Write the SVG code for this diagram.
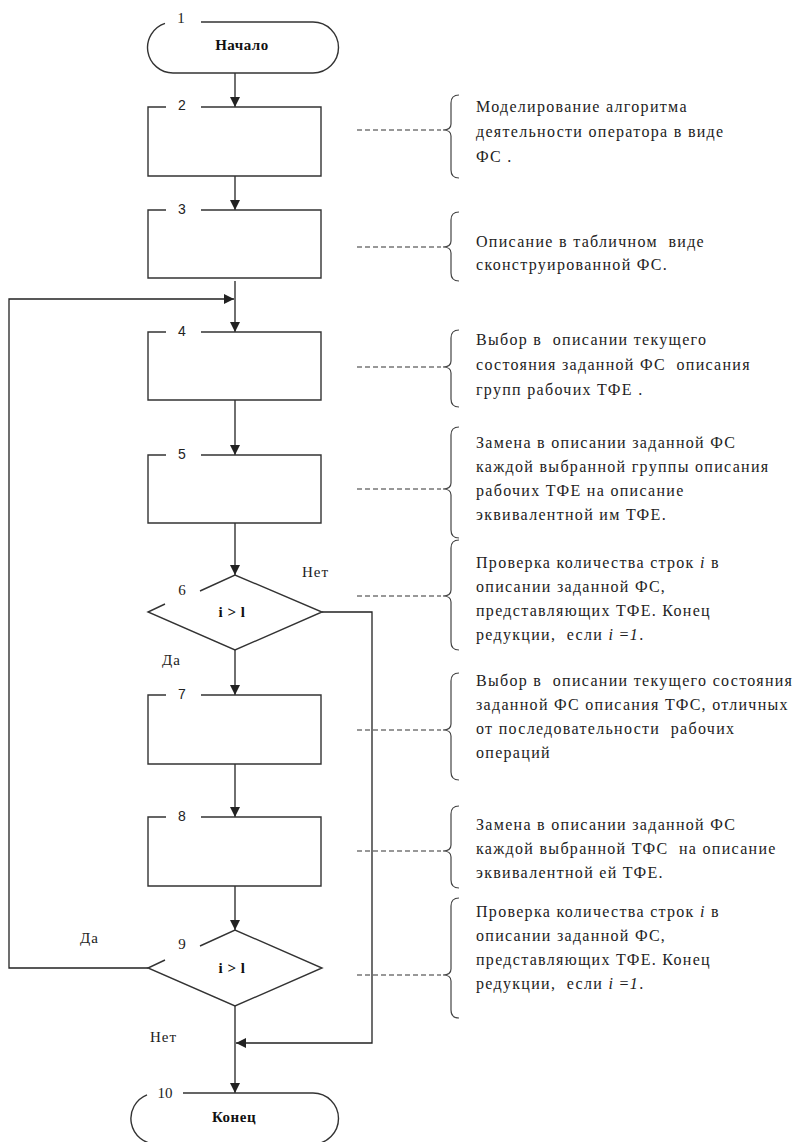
<svg xmlns="http://www.w3.org/2000/svg" width="804" height="1142" viewBox="0 0 804 1142">
<defs>
<marker id="ah" viewBox="0 0 10 10" refX="10" refY="5" markerWidth="10" markerHeight="10" markerUnits="userSpaceOnUse" orient="auto">
<path d="M0,0 L10,5 L0,10 Z" fill="#222"/>
</marker>
<style>
.sh{fill:none;stroke:#333;stroke-width:1.4}
.cn{fill:none;stroke:#222;stroke-width:1.3}
.ar{marker-end:url(#ah)}
.da{fill:none;stroke:#333;stroke-width:1.2;stroke-dasharray:5 3}
.br{fill:none;stroke:#444;stroke-width:1.2}
text{font-family:"Liberation Serif","Times New Roman","DejaVu Serif",serif}
.nt{font-size:16px;fill:#222;letter-spacing:1.3px;white-space:pre}
.lb{font-size:15px;font-weight:bold;fill:#111;text-anchor:middle;letter-spacing:0.5px}
.ns{font-family:"Liberation Sans",Arial,sans-serif;font-size:14px;fill:#222;text-anchor:middle}
.nr{font-size:15px;fill:#222;text-anchor:middle}
.yn{font-size:15px;fill:#222;letter-spacing:1px}
</style>
</defs>
<rect width="804" height="1142" fill="#fff"/>

<g id="connectors">
<line class="cn ar" x1="235" y1="73" x2="235" y2="107"/>
<line class="cn ar" x1="235" y1="176" x2="235" y2="210"/>
<line class="cn ar" x1="235" y1="281" x2="235" y2="332"/>
<polyline class="cn ar" points="148,968 9,968 9,299 234,299"/>
<line class="cn ar" x1="235" y1="400" x2="235" y2="455"/>
<line class="cn ar" x1="235" y1="523" x2="235" y2="575"/>
<line class="cn ar" x1="235" y1="650" x2="235" y2="695"/>
<polyline class="cn ar" points="322,612 372,612 372,1043 236,1043"/>
<line class="cn ar" x1="235" y1="764" x2="235" y2="817"/>
<line class="cn ar" x1="235" y1="886" x2="235" y2="930"/>
<line class="cn ar" x1="235" y1="1006" x2="235" y2="1093"/>
<text class="yn" x="302" y="577">Нет</text>
<text class="yn" x="162" y="665">Да</text>
<text class="yn" x="80" y="943">Да</text>
<text class="yn" x="150" y="1042">Нет</text>
</g>

<g id="n1">
<path class="sh" d="M201,22 H313 A25.5,25.5 0 0 1 313,73 H173 A25.5,25.5 0 0 1 165,23.3"/>
<text class="nr" x="181" y="23">1</text>
<text class="lb" x="242" y="50">Начало</text>
</g>
<g id="n2">
<path class="sh" d="M166,107 H148 V176 H321 V107 H201"/>
<text class="ns" x="182" y="110">2</text>
</g>
<g id="n3">
<path class="sh" d="M166,210 H148 V278 H321 V210 H201"/>
<text class="ns" x="182" y="214">3</text>
</g>
<g id="n4">
<path class="sh" d="M166,332 H148 V400 H321 V332 H201"/>
<text class="ns" x="182" y="336">4</text>
</g>
<g id="n5">
<path class="sh" d="M166,455 H148 V523 H321 V455 H201"/>
<text class="ns" x="182" y="459">5</text>
</g>
<g id="n6">
<path class="sh" d="M200,591 L235,575 L322,612 L235,650 L148,612 L165,604"/>
<text class="nr" x="182" y="595">6</text>
<text class="lb" x="232" y="617">i &gt; l</text>
</g>
<g id="n7">
<path class="sh" d="M166,695 H148 V764 H321 V695 H201"/>
<text class="ns" x="182" y="699">7</text>
</g>
<g id="n8">
<path class="sh" d="M166,817 H148 V886 H321 V817 H201"/>
<text class="ns" x="182" y="821">8</text>
</g>
<g id="n9">
<path class="sh" d="M200,946 L235,930 L322,968 L235,1006 L148,968 L165,960"/>
<text class="nr" x="182" y="949">9</text>
<text class="lb" x="232" y="973">i &gt; l</text>
</g>
<g id="n10">
<path class="sh" d="M183,1093 H313 A25.5,25.5 0 0 1 313,1144 H156.5 A25.5,25.5 0 0 1 147,1094.8"/>
<text class="nr" x="165" y="1098">10</text>
<text class="lb" x="234" y="1122">Конец</text>
</g>

<g id="notes">
<line class="da" x1="357" y1="130" x2="441" y2="130"/>
<path class="br" d="M459,95 Q451,95 451,103 V124 Q451,130 443,130 Q451,130 451,136 V170 Q451,178 459,178"/>
<text class="nt" x="476" y="112">Моделирование алгоритма</text>
<text class="nt" x="476" y="137">деятельности оператора в виде</text>
<text class="nt" x="476" y="162">ФС .</text>

<line class="da" x1="357" y1="247" x2="441" y2="247"/>
<path class="br" d="M459,212 Q451,212 451,220 V241 Q451,247 443,247 Q451,247 451,253 V273 Q451,281 459,281"/>
<text class="nt" x="476" y="247" xml:space="preserve">Описание в табличном  виде</text>
<text class="nt" x="476" y="270">сконструированной ФС.</text>

<line class="da" x1="357" y1="367" x2="441" y2="367"/>
<path class="br" d="M459,330 Q451,330 451,338 V361 Q451,367 443,367 Q451,367 451,373 V399 Q451,407 459,407"/>
<text class="nt" x="476" y="345" xml:space="preserve">Выбор в  описании текущего</text>
<text class="nt" x="476" y="370" xml:space="preserve">состояния заданной ФС  описания</text>
<text class="nt" x="476" y="395">групп рабочих ТФЕ .</text>

<line class="da" x1="357" y1="489" x2="441" y2="489"/>
<path class="br" d="M459,427 Q451,427 451,435 V483 Q451,489 443,489 Q451,489 451,495 V530 Q451,538 459,538"/>
<text class="nt" x="476" y="448">Замена в описании заданной ФС</text>
<text class="nt" x="476" y="472">каждой выбранной группы описания</text>
<text class="nt" x="476" y="496">рабочих ТФЕ на описание</text>
<text class="nt" x="476" y="520">эквивалентной им ТФЕ.</text>

<line class="da" x1="357" y1="596" x2="441" y2="596"/>
<path class="br" d="M459,540 Q451,540 451,548 V590 Q451,596 443,596 Q451,596 451,602 V642 Q451,650 459,650"/>
<text class="nt" x="476" y="568">Проверка количества строк <tspan font-style="italic">i</tspan> в</text>
<text class="nt" x="476" y="592">описании заданной ФС,</text>
<text class="nt" x="476" y="616">представляющих ТФЕ. Конец</text>
<text class="nt" x="476" y="640" xml:space="preserve">редукции,  если <tspan font-style="italic">i</tspan> =<tspan font-style="italic">1</tspan>.</text>

<line class="da" x1="357" y1="730" x2="441" y2="730"/>
<path class="br" d="M459,673 Q451,673 451,681 V724 Q451,730 443,730 Q451,730 451,736 V772 Q451,780 459,780"/>
<text class="nt" x="476" y="686" xml:space="preserve">Выбор в  описании текущего состояния</text>
<text class="nt" x="476" y="710">заданной ФС описания ТФС, отличных</text>
<text class="nt" x="476" y="734" xml:space="preserve">от последовательности  рабочих</text>
<text class="nt" x="476" y="758">операций</text>

<line class="da" x1="357" y1="851" x2="441" y2="851"/>
<path class="br" d="M459,806 Q451,806 451,814 V845 Q451,851 443,851 Q451,851 451,857 V880 Q451,888 459,888"/>
<text class="nt" x="476" y="830">Замена в описании заданной ФС</text>
<text class="nt" x="476" y="854" xml:space="preserve">каждой выбранной ТФС  на описание</text>
<text class="nt" x="476" y="878">эквивалентной ей ТФЕ.</text>

<line class="da" x1="357" y1="975" x2="441" y2="975"/>
<path class="br" d="M459,898 Q451,898 451,906 V969 Q451,975 443,975 Q451,975 451,981 V1010 Q451,1018 459,1018"/>
<text class="nt" x="476" y="917">Проверка количества строк <tspan font-style="italic">i</tspan> в</text>
<text class="nt" x="476" y="941">описании заданной ФС,</text>
<text class="nt" x="476" y="965">представляющих ТФЕ. Конец</text>
<text class="nt" x="476" y="989" xml:space="preserve">редукции,  если <tspan font-style="italic">i</tspan> =<tspan font-style="italic">1</tspan>.</text>
</g>
</svg>
